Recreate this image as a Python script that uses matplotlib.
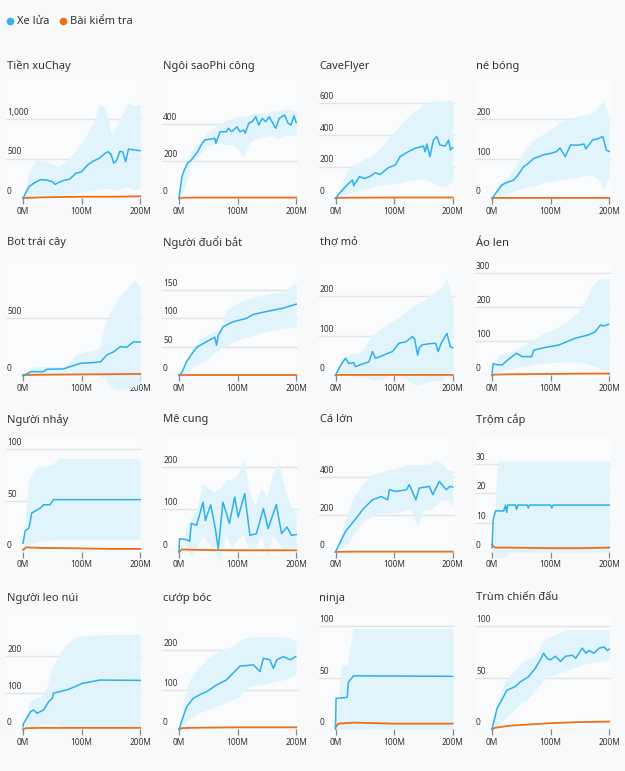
import matplotlib
matplotlib.use("Agg")
import matplotlib.pyplot as plt
from matplotlib.transforms import blended_transform_factory

plt.rcParams['font.family'] = ['Noto Sans', 'DejaVu Sans']

# ---------------- data ----------------
titles = ["Tiền xuChạy", "Ngôi saoPhi công", "CaveFlyer", "né bóng",
          "Bot trái cây", "Người đuổi bắt", "thợ mỏ", "Áo len",
          "Người nhảy", "Mê cung", "Cá lớn", "Trộm cắp",
          "Người leo núi", "cướp bóc", "ninja", "Trùm chiến đấu"]
legend_labels = ["Xe lửa", "Bài kiểm tra"]
x_tick_values = [0, 100, 200]
x_tick_labels = ["0M", "100M", "200M"]

BAND_X = [0, 10, 20, 30, 40, 50, 60, 70, 80, 90, 100, 110, 120, 130, 140, 150, 160, 170, 180, 190, 200]
TEST_X = [0, 5, 30, 100, 150, 200]

# 1 Tiền xuChạy
coin_x = [0, 10, 20, 30, 40, 50, 55, 60, 70, 80, 90, 100, 110, 120, 130, 140, 145, 150, 155, 160, 165, 170, 175, 180, 190, 200]
coin_train = [0, 146, 197, 235, 230, 210, 175, 197, 227, 243, 315, 335, 420, 470, 504, 567, 588, 555, 441, 483, 588, 588, 462, 622, 609, 600]
coin_hi = [0, 300, 480, 480, 470, 430, 400, 450, 520, 600, 700, 820, 950, 1180, 1150, 820, 900, 1070, 1200, 1170, 1180]
coin_lo = [0, 20, 40, 50, 40, 30, 20, 30, 50, 60, 80, 90, 100, 120, 130, 120, 100, 130, 150, 100, 120]
coin_test = [0, 5, 12, 20, 20, 25]
coin_yticks = [0, 500, 1000]

# 2 Ngôi saoPhi công
star_x = [0, 5, 9, 15, 21, 32, 38, 44, 55, 61, 63, 70, 81, 84, 90, 99, 104, 110, 113, 119, 125, 131, 136, 142, 148, 154, 160, 165, 171, 180, 186, 191, 196, 200]
star_train = [0, 116, 152, 190, 206, 251, 287, 314, 318, 323, 296, 358, 358, 377, 358, 385, 358, 367, 350, 404, 412, 439, 394, 430, 412, 439, 404, 377, 430, 448, 404, 394, 443, 408]
star_hi = [0, 180, 250, 290, 320, 360, 380, 400, 420, 430, 440, 440, 450, 460, 460, 460, 470, 470, 480, 480, 470]
star_lo = [0, 60, 190, 220, 250, 280, 290, 300, 290, 290, 270, 220, 300, 320, 330, 330, 340, 320, 340, 340, 340]
star_test = [0, 3, 4, 4, 4, 4]
star_yticks = [0, 200, 400]

# 3 CaveFlyer
cave_x = [0, 10, 20, 29, 31, 41, 50, 58, 68, 76, 90, 102, 110, 124, 135, 150, 153, 156, 161, 167, 173, 178, 187, 193, 196, 200]
cave_train = [0, 45, 85, 116, 80, 137, 125, 137, 162, 150, 193, 210, 263, 294, 315, 330, 294, 343, 263, 368, 389, 337, 330, 368, 305, 320]
cave_hi = [0, 80, 180, 210, 230, 250, 260, 290, 330, 380, 420, 460, 500, 540, 560, 590, 610, 620, 610, 620, 615]
cave_lo = [0, 10, 30, 40, 52, 60, 70, 80, 85, 90, 94, 100, 110, 115, 120, 126, 110, 90, 73, 80, 107]
cave_test = [0, 3, 4, 5, 5, 5]
cave_yticks = [0, 200, 400, 600]

# 4 né bóng
dodge_x = [0, 10, 17, 25, 37, 45, 54, 62, 71, 80, 88, 102, 110, 116, 125, 134, 145, 157, 160, 172, 180, 189, 195, 200]
dodge_train = [0, 20, 34, 40, 46, 60, 80, 88, 101, 105, 110, 114, 118, 127, 105, 135, 134, 137, 125, 148, 150, 156, 122, 118]
dodge_hi = [0, 30, 45, 60, 80, 110, 130, 145, 155, 165, 175, 185, 195, 200, 205, 210, 210, 215, 225, 250, 205]
dodge_lo = [0, 5, 10, 15, 20, 25, 28, 30, 35, 40, 42, 45, 48, 50, 52, 55, 58, 58, 50, 25, 55]
dodge_test = [0, 1, 1, 1, 1, 1]
dodge_yticks = [0, 100, 200]

# 5 Bot trái cây
fruit_x = [0, 5, 14, 35, 41, 69, 80, 98, 115, 132, 143, 155, 166, 177, 189, 200]
fruit_train = [0, 10, 32, 32, 53, 56, 75, 105, 110, 117, 178, 207, 251, 246, 295, 292]
fruit_hi = [0, 40, 75, 75, 75, 75, 75, 75, 120, 180, 200, 210, 220, 237, 450, 560, 650, 720, 780, 836, 777]
fruit_lo = [0, 0, 0, 0, 0, 0, 0, 0, 0, 0, 0, 0, 0, 0, -30, -110, -130, -120, -110, -100, -70]
fruit_test = [0, 3, 5, 8, 10, 12]
fruit_yticks = [0, 500]

# 6 Người đuổi bắt
chase_x = [0, 5, 13, 20, 30, 47, 61, 64, 67, 75, 92, 115, 127, 149, 178, 200]
chase_train = [0, 5, 24, 35, 49, 59, 67, 53, 70, 85, 94, 100, 107, 112, 118, 125]
chase_hi = [0, 15, 39, 58, 68, 72, 78, 80, 112, 120, 127, 132, 135, 138, 140, 142, 144, 145, 148, 155, 163]
chase_lo = [0, 0, 10, 18, 24, 30, 40, 47, 50, 58, 62, 66, 68, 72, 75, 77, 79, 81, 83, 84, 85]
chase_test = [0, 0.5, 0.5, 0.5, 0.5, 0.5]
chase_yticks = [0, 50, 100, 150]

# 7 thợ mỏ
miner_x = [0, 5, 9, 17, 23, 31, 34, 45, 57, 63, 68, 80, 97, 108, 120, 131, 135, 140, 143, 148, 160, 171, 175, 180, 190, 196, 200]
miner_train = [0, 15, 26, 43, 30, 32, 22, 28, 34, 60, 43, 50, 60, 81, 85, 98, 92, 51, 70, 77, 80, 81, 60, 80, 106, 72, 70]
miner_hi = [0, 40, 50, 55, 56, 70, 100, 110, 120, 130, 140, 150, 160, 175, 182, 190, 200, 210, 220, 245, 185]
miner_lo = [0, 5, 0, -4, -4, -5, -10, -13, -10, 0, 5, 0, -10, -20, -25, -20, -15, -13, -13, 0, 12]
miner_test = [0, 1, 1, 1, 1, 1]
miner_yticks = [0, 100, 200]

# 8 Áo len
jumper_x = [0, 2, 5, 17, 28, 42, 51, 68, 71, 91, 114, 142, 165, 176, 185, 190, 199]
jumper_train = [0, 35, 32, 30, 47, 65, 55, 55, 74, 82, 89, 109, 119, 128, 148, 145, 150]
jumper_hi = [0, 60, 62, 65, 75, 85, 95, 105, 115, 125, 130, 140, 150, 160, 175, 192, 220, 260, 280, 285, 285]
jumper_lo = [0, 10, 15, 18, 22, 25, 28, 32, 35, 35, 36, 38, 40, 40, 40, 38, 35, 30, 25, 10, -4]
jumper_test = [0, 2, 3, 4, 5, 5]
jumper_yticks = [0, 100, 200, 300]

# 9 Người nhảy
leaper_x = [0, 2, 4, 10, 15, 30, 35, 46, 52, 100, 150, 200]
leaper_train = [8.5, 15, 21, 23, 38, 43, 46, 46, 51, 51, 51, 51]
leaper_hi = [5, 70, 81, 83, 84, 85, 91, 91, 91, 91, 91, 91, 91, 91, 91, 91, 91, 91, 91, 91, 90]
leaper_lo = [0, 7, 9, 10, 11, 12, 12, 12, 12, 12, 12, 12, 12, 12, 12, 12, 12, 12, 12, 12, 12]
leaper_test = [2, 4.5, 4, 3.5, 3, 3]
leaper_yticks = [0, 50, 100]

# 10 Mê cung
maze_x = [0, 1, 13, 18, 21, 30, 41, 45, 54, 62, 67, 75, 86, 95, 101, 112, 121, 132, 144, 152, 166, 175, 184, 192, 200]
maze_train = [0, 31, 29, 25, 67, 63, 117, 74, 111, 55, 8, 117, 67, 129, 82, 137, 39, 43, 102, 55, 111, 43, 59, 39, 41]
maze_hi = [0, 40, 80, 100, 160, 150, 140, 150, 170, 170, 180, 220, 140, 110, 150, 130, 180, 210, 150, 110, 90]
maze_lo = [0, 20, -10, 10, 40, 20, 0, -20, 40, 10, 30, 40, 0, 10, 40, -10, 40, 20, 0, 10, 10]
maze_test = [0, 6, 5, 4, 4, 4]
maze_yticks = [0, 100, 200]

# 11 Cá lớn
fish_x = [0, 17, 40, 46, 63, 78, 89, 92, 103, 121, 126, 137, 143, 160, 166, 177, 189, 195, 200]
fish_train = [0, 110, 200, 227, 280, 298, 280, 334, 325, 334, 361, 280, 343, 352, 307, 379, 334, 352, 348]
fish_hi = [0, 110, 200, 290, 334, 380, 410, 424, 430, 441, 445, 455, 468, 468, 468, 468, 470, 495, 480, 441, 441]
fish_lo = [0, 20, 39, 90, 137, 170, 190, 209, 209, 209, 209, 215, 227, 227, 137, 227, 227, 250, 280, 280, 245]
fish_test = [0, 1, 2, 2, 2, 2]
fish_yticks = [0, 200, 400]

# 12 Trộm cắp
heist_x = [0, 2, 6, 20, 23, 25, 27, 40, 42, 44, 60, 62, 64, 100, 102, 104, 200]
heist_train = [1.4, 11, 14, 14, 16, 13.5, 16, 16, 14.5, 16, 16, 15, 16, 16, 15, 16, 16]
heist_hi = [0, 31, 31, 31, 31, 31, 31, 31, 31, 31, 31, 31, 31, 31, 31, 31, 31, 31, 31, 31, 31]
heist_lo = [0, -2, -2, 0, 0, 0, 0, 0, 0, 0, 0, 0, 0, 0, 0, 0, 0, 0, 0, 0, 0]
heist_test = [2.5, 1.5, 1.5, 1.3, 1.3, 1.5]
heist_yticks = [0, 10, 20, 30]

# 13 Người leo núi
climber_x = [0, 1, 13, 18, 24, 35, 44, 50, 52, 75, 86, 101, 115, 132, 200]
climber_train = [7, 16, 48, 53, 44, 53, 76, 85, 99, 108, 115, 126, 130, 135, 134]
climber_hi = [0, 71, 86, 89, 110, 170, 200, 226, 240, 254, 256, 258, 258, 258, 259, 259, 260, 260, 260, 260, 260]
climber_lo = [0, 3, 8, 12, 15, 16, 12, 8, 6, 5, 4, 3, 3, 3, 3, 3, 3, 3, 3, 3, 3]
climber_test = [0, 3, 4, 4, 4, 4]
climber_yticks = [0, 100, 200]

# 14 cướp bóc
plunder_x = [0, 13, 24, 36, 47, 64, 81, 92, 104, 127, 138, 144, 155, 161, 167, 178, 190, 199]
plunder_train = [0, 57, 78, 88, 95, 112, 125, 142, 160, 163, 146, 180, 176, 154, 176, 184, 176, 184]
plunder_hi = [0, 90, 130, 150, 165, 180, 190, 200, 205, 210, 220, 230, 234, 234, 235, 235, 235, 234, 234, 230, 222]
plunder_lo = [0, 15, 28, 40, 45, 50, 57, 62, 68, 74, 80, 95, 108, 112, 114, 116, 120, 123, 126, 132, 142]
plunder_test = [0, 3, 4, 5, 5, 5]
plunder_yticks = [0, 100, 200]

# 15 ninja
ninja_x = [0, 1, 20, 22, 31, 200]
ninja_train = [0, 30, 31, 46, 52, 51.5]
ninja_hi = [0, 63, 63, 98, 98, 98, 98, 98, 98, 98, 98, 98, 98, 98, 98, 98, 98, 98, 98, 98, 98]
ninja_lo = [0, 0, 0, 0, 0, 0, 0, 0, 0, 0, 0, 0, 0, 0, 0, 0, 0, 0, 0, 0, 0]
ninja_test = [2, 5.5, 6.5, 5.5, 5.5, 5.5]
ninja_yticks = [0, 50, 100]

# 16 Trùm chiến đấu
boss_x = [0, 8.5, 25.5, 39.7, 48, 62, 73.5, 82, 88, 94, 99.5, 108, 117, 125.5, 137, 142.6, 154, 160, 165.6, 174, 183, 191, 197, 200]
boss_train = [0, 20, 38, 41.5, 46, 51, 59, 67, 74, 69, 67.5, 71, 66, 71, 72, 69, 79, 74, 76.6, 74, 79, 80, 76.6, 78]
boss_hi = [0, 25, 45, 52, 58, 64, 68, 71, 78, 87, 90, 93, 95, 97, 97, 97, 97, 97, 97, 97, 97]
boss_lo = [0, 3, 9, 15, 20, 25, 29, 35, 42, 50, 52, 54, 56, 58, 60, 62, 64, 65, 66, 67, 68]
boss_test = [0, 1.5, 3.5, 6, 7, 7.5]
boss_yticks = [0, 50, 100]

panels = [
    (coin_x, coin_train, coin_hi, coin_lo, coin_test, coin_yticks),
    (star_x, star_train, star_hi, star_lo, star_test, star_yticks),
    (cave_x, cave_train, cave_hi, cave_lo, cave_test, cave_yticks),
    (dodge_x, dodge_train, dodge_hi, dodge_lo, dodge_test, dodge_yticks),
    (fruit_x, fruit_train, fruit_hi, fruit_lo, fruit_test, fruit_yticks),
    (chase_x, chase_train, chase_hi, chase_lo, chase_test, chase_yticks),
    (miner_x, miner_train, miner_hi, miner_lo, miner_test, miner_yticks),
    (jumper_x, jumper_train, jumper_hi, jumper_lo, jumper_test, jumper_yticks),
    (leaper_x, leaper_train, leaper_hi, leaper_lo, leaper_test, leaper_yticks),
    (maze_x, maze_train, maze_hi, maze_lo, maze_test, maze_yticks),
    (fish_x, fish_train, fish_hi, fish_lo, fish_test, fish_yticks),
    (heist_x, heist_train, heist_hi, heist_lo, heist_test, heist_yticks),
    (climber_x, climber_train, climber_hi, climber_lo, climber_test, climber_yticks),
    (plunder_x, plunder_train, plunder_hi, plunder_lo, plunder_test, plunder_yticks),
    (ninja_x, ninja_train, ninja_hi, ninja_lo, ninja_test, ninja_yticks),
    (boss_x, boss_train, boss_hi, boss_lo, boss_test, boss_yticks),
]

# axis upper limits (layout)
y_max = [1517, 647, 760, 304,
         1029, 206, 297, 345,
         112, 270, 617, 39.2,
         327, 302, 116, 116]

# ---------------- layout ----------------
W, H = 625, 771
BG = '#f8f9fa'
BLUE = '#2eb0ea'
BAND = '#e1f3fb'
ORANGE = '#ec6f1a'
GRID = '#e1e3e5'
TXT = '#333333'

col_left = [6, 162, 318.5, 475]
col_w = 136
row_top = [78, 258, 437, 610]
row_base = [198.3, 375.3, 552.0, 729.3]
title_y = [66, 243, 420, 598]

fig = plt.figure(figsize=(W / 100, H / 100), dpi=100, facecolor=BG)

for i, (lx, ly, hi, lo, test, yt) in enumerate(panels):
    r, c = divmod(i, 4)
    left = col_left[c] / W
    bottom = 1 - row_base[r] / H
    height = (row_base[r] - row_top[r]) / H
    ax = fig.add_axes([left, bottom, col_w / W, height])
    ax.set_facecolor('#f9fbfc')
    ax.set_xlim(-29, 203)
    ax.set_ylim(0, y_max[i])
    for s in ax.spines.values():
        s.set_visible(False)
    ax.fill_between(BAND_X, lo, hi, color=BAND, lw=0, clip_on=False, zorder=1)
    ax.plot(TEST_X, test, color=ORANGE, lw=1.3, clip_on=False, zorder=3)
    ax.plot(lx, ly, color=BLUE, lw=1.1, clip_on=False, zorder=4)
    ax.set_yticks(yt)
    ax.yaxis.grid(True, color=GRID, lw=1, zorder=0)
    ax.set_axisbelow(True)
    ax.tick_params(axis='y', left=False, labelleft=False)
    ax.set_xticks(x_tick_values)
    ax.set_xticklabels(x_tick_labels)
    ax.tick_params(axis='x', length=4.5, width=0.9, color='#888888', pad=1.5,
                   labelsize=6, labelcolor=TXT)
    tr = blended_transform_factory(ax.transAxes, ax.transData)
    for v in yt:
        lab = f"{v:,}"
        ax.text(0.008, v + y_max[i] * 0.018, lab, transform=tr, fontsize=6,
                color=TXT, ha='left', va='bottom', zorder=5)
    fig.text((col_left[c] + 1) / W, 1 - title_y[r] / H, titles[i],
             fontsize=8, color=TXT, ha='left', va='center')

# legend
lax = fig.add_axes([0, 0, 1, 1], facecolor='none')
lax.set_xlim(0, W)
lax.set_ylim(H, 0)
lax.axis('off')
lax.scatter([9.5], [21], s=30, color=BLUE, lw=0)
lax.text(17, 21, legend_labels[0], fontsize=8, color=TXT, va='center', ha='left')
lax.scatter([63], [21], s=30, color=ORANGE, lw=0)
lax.text(70, 21, legend_labels[1], fontsize=8, color=TXT, va='center', ha='left')

fig.savefig('out.png', dpi=100, facecolor=BG)
